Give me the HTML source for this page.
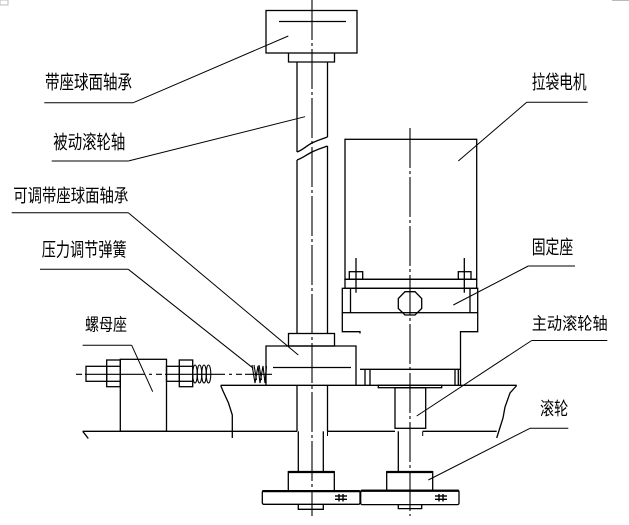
<!DOCTYPE html>
<html><head><meta charset="utf-8"><style>
html,body{margin:0;padding:0;background:#fff;}
svg{display:block;}
text{font-family:"Liberation Sans","Noto Sans CJK SC",sans-serif;font-size:19px;fill:#000;}
</style></head><body>
<svg width="629" height="525" viewBox="0 0 629 525" xmlns="http://www.w3.org/2000/svg">
<rect width="629" height="525" fill="#fff"/>
<rect x="0" y="0" width="8" height="5" fill="none" stroke="#bbb" stroke-width="1"/>
<line x1="612" y1="0.5" x2="629" y2="0.5" stroke="#bbb"/>

<g stroke="#000" stroke-width="1.3" fill="none">
<!-- top bearing -->
<rect x="266" y="10.5" width="91" height="42.5"/>
<line x1="279" y1="21.5" x2="346" y2="21.5"/>
<polyline points="288.5,53 288.5,62 334.5,62 334.5,53"/>
<!-- upper shaft -->
<line x1="297" y1="62" x2="297" y2="152"/>
<line x1="327.5" y1="62" x2="327.5" y2="137"/>
<path d="M297,152 C303,150 306,146 312,143 C318,140 322,139 327.5,137"/>
<path d="M297,160 C303,158 306,155 312,152 C318,149 322,148 327.5,146"/>
<line x1="297" y1="160" x2="297" y2="333.5"/>
<line x1="327.5" y1="146" x2="327.5" y2="333.5"/>
<!-- adjustable bearing -->
<rect x="288.5" y="333.5" width="46" height="12.5"/>
<polyline points="266,385 266,346 356,346 356,385"/>
<line x1="273" y1="367.5" x2="351" y2="367.5"/>
<!-- base plate -->
<line x1="220.7" y1="385.3" x2="516.7" y2="385.3"/>
<path d="M220.7,385.5 L223,391 L228.5,403 L232.3,415 L232.3,438"/>
<path d="M516.7,385.5 L510,393 L505,407 L503,418 L496.7,438"/>
<line x1="82.7" y1="431.3" x2="297" y2="431.3"/>
<line x1="327.5" y1="431.3" x2="395" y2="431.3"/>
<line x1="422.7" y1="431.3" x2="496.7" y2="431.3"/>
<line x1="82.7" y1="431.3" x2="88.3" y2="438.5"/>
<line x1="297" y1="385" x2="297" y2="431.3"/>
<line x1="327.5" y1="385" x2="327.5" y2="431.3"/>
<!-- lower left shaft + roller -->
<line x1="298.3" y1="431.3" x2="298.3" y2="471.7"/>
<line x1="323.3" y1="431.3" x2="323.3" y2="471.7"/>
<rect x="288.3" y="471.7" width="46" height="19"/>
<line x1="288.3" y1="472" x2="334.3" y2="472" stroke-width="2.2"/>
<rect x="262.3" y="490.7" width="97.7" height="13.6" rx="1.5"/>
<line x1="262.3" y1="491.2" x2="360" y2="491.2" stroke-width="2.2"/>
<polyline points="298.3,504.3 298.3,509.3 323.3,509.3 323.3,504.3"/>
<!-- right roller -->
<rect x="395" y="387.7" width="30.7" height="40.6"/>
<line x1="398.3" y1="431.3" x2="398.3" y2="471.7"/>
<line x1="422.7" y1="431.3" x2="422.7" y2="436" stroke-width="1"/>
<line x1="327.5" y1="431.3" x2="327.5" y2="436" stroke-width="1"/>
<rect x="386.7" y="471.7" width="46" height="18.6"/>
<line x1="386.7" y1="472" x2="432.7" y2="472" stroke-width="2.2"/>
<rect x="360.7" y="490.3" width="98.3" height="14.3" rx="1.5"/>
<line x1="360.7" y1="490.8" x2="459" y2="490.8" stroke-width="2.2"/>
<polyline points="398.3,504.6 398.3,508.6 421.7,508.6 421.7,504.6"/>
<!-- # symbols -->
<g stroke-width="1.4">
<line x1="335" y1="496" x2="347" y2="496"/><line x1="335" y1="499.3" x2="347" y2="499.3"/>
<line x1="339" y1="494" x2="339" y2="501.5"/><line x1="343" y1="494" x2="343" y2="501.5"/>
<line x1="435" y1="496" x2="447" y2="496"/><line x1="435" y1="499.3" x2="447" y2="499.3"/>
<line x1="439" y1="494" x2="439" y2="501.5"/><line x1="443" y1="494" x2="443" y2="501.5"/>
</g>
<!-- motor -->
<rect x="345" y="139.3" width="131.7" height="140"/>
<rect x="345" y="279.3" width="131.7" height="9"/>
<rect x="349.3" y="271.7" width="13.4" height="7.6"/>
<rect x="458.3" y="271.7" width="12.7" height="7.6"/>
<line x1="356" y1="258" x2="356" y2="292.7"/>
<line x1="464.3" y1="258" x2="464.3" y2="292.7"/>
<!-- fixed seat -->
<rect x="342.3" y="288.3" width="135.4" height="24.4"/>
<line x1="350.5" y1="288.3" x2="350.5" y2="312.7"/>
<line x1="470" y1="288.3" x2="470" y2="312.7"/>
<polygon points="405,291.7 415,291.7 421.7,298.5 421.7,308.5 415,315 405,315 398.3,308.5 398.3,298.5"/>
<polyline points="342.3,312.7 342.3,331.7 360,331.7 360,333.5"/>
<polyline points="477.7,312.7 477.7,331.7 460.5,331.7 460.5,385.3"/>
<line x1="360" y1="369.3" x2="460.5" y2="369.3"/>
<line x1="365" y1="369.3" x2="365" y2="385.3"/>
<line x1="370" y1="369.3" x2="370" y2="385.3"/>
<line x1="455" y1="369.3" x2="455" y2="385.3"/>
<line x1="458.3" y1="369.3" x2="458.3" y2="385.3"/>
<rect x="378.3" y="385.3" width="63.4" height="2.4"/>
<!-- nut seat assembly -->
<rect x="120.3" y="359.3" width="46.2" height="72"/>
<rect x="86" y="366.3" width="20.7" height="15"/>
<rect x="106.7" y="360" width="13.6" height="26.7"/>
<line x1="106.7" y1="366.3" x2="120.3" y2="366.3"/>
<line x1="106.7" y1="381.3" x2="120.3" y2="381.3"/>
<rect x="166.5" y="366.3" width="12.8" height="15"/>
<rect x="179.3" y="360" width="13.4" height="26.7"/>
<line x1="179.3" y1="366.3" x2="192.7" y2="366.3"/>
<line x1="179.3" y1="381.3" x2="192.7" y2="381.3"/>
</g>
<!-- springs -->
<g stroke="#000" stroke-width="1.1" fill="none">
<ellipse cx="195" cy="374" rx="2.3" ry="9"/>
<ellipse cx="199.5" cy="374" rx="2.3" ry="9"/>
<ellipse cx="204" cy="374" rx="2.3" ry="9"/>
<ellipse cx="208.5" cy="374" rx="2.3" ry="9"/>
<path d="M252,365 L255,383 L258,366 L260,383 L263,366 L265,383 L266.5,366"/>
<path d="M254,365 L256.5,380 M259,365 L261.5,380"/>
</g>
<!-- centerlines -->
<g stroke="#000" stroke-width="1.1" fill="none" stroke-dasharray="40 3 3 3">
<line x1="312" y1="0" x2="312" y2="516"/>
<line x1="410" y1="128" x2="410" y2="516"/>
<line x1="76" y1="374.3" x2="272" y2="374.3" stroke-dasharray="6 3 60 4 3 4"/>
</g>
<!-- leaders and underlines -->
<g stroke="#000" stroke-width="1" fill="none">
<line x1="44.3" y1="102.7" x2="133.3" y2="102.7"/><line x1="133.3" y1="102.7" x2="288.3" y2="36"/>
<line x1="51.7" y1="161" x2="128.3" y2="161"/><line x1="128.3" y1="161" x2="305" y2="116.7"/>
<line x1="11.7" y1="212.7" x2="128.3" y2="212.7"/><line x1="128.3" y1="212.7" x2="298.3" y2="355"/>
<line x1="40" y1="269.3" x2="128.3" y2="269.3"/><line x1="128.3" y1="269.3" x2="253.3" y2="368.3"/>
<line x1="82.7" y1="345.3" x2="131.7" y2="345.3"/><line x1="131.7" y1="345.3" x2="152.7" y2="391.7"/>
<line x1="526.7" y1="102.3" x2="587.7" y2="102.3"/><line x1="526.7" y1="102.3" x2="458.3" y2="161"/>
<line x1="528.3" y1="266" x2="575" y2="266"/><line x1="528.3" y1="266" x2="453.3" y2="305"/>
<line x1="531.7" y1="340.5" x2="607.3" y2="340.5"/><line x1="531.7" y1="340.5" x2="416.7" y2="416"/>
<line x1="530" y1="428.3" x2="568.3" y2="428.3"/><line x1="530" y1="428.3" x2="428.3" y2="480"/>
</g>
<!-- labels -->
<text x="45" y="88.5" textLength="87" lengthAdjust="spacingAndGlyphs">带座球面轴承</text>
<text x="53.3" y="148.5" textLength="72" lengthAdjust="spacingAndGlyphs">被动滚轮轴</text>
<text x="13.3" y="202" textLength="115" lengthAdjust="spacingAndGlyphs" style="font-size:18px">可调带座球面轴承</text>
<text x="41.7" y="256" textLength="85" lengthAdjust="spacingAndGlyphs">压力调节弹簧</text>
<text x="85" y="330.5" textLength="42" lengthAdjust="spacingAndGlyphs" style="font-size:17px">螺母座</text>
<text x="531.7" y="88.5" textLength="55" lengthAdjust="spacingAndGlyphs">拉袋电机</text>
<text x="531.7" y="253.5" textLength="41.6" lengthAdjust="spacingAndGlyphs">固定座</text>
<text x="531.7" y="329.5" textLength="76" lengthAdjust="spacingAndGlyphs" style="font-size:17px">主动滚轮轴</text>
<text x="540" y="415" textLength="28.3" lengthAdjust="spacingAndGlyphs" style="font-size:18px">滚轮</text>
</svg>
</body></html>
